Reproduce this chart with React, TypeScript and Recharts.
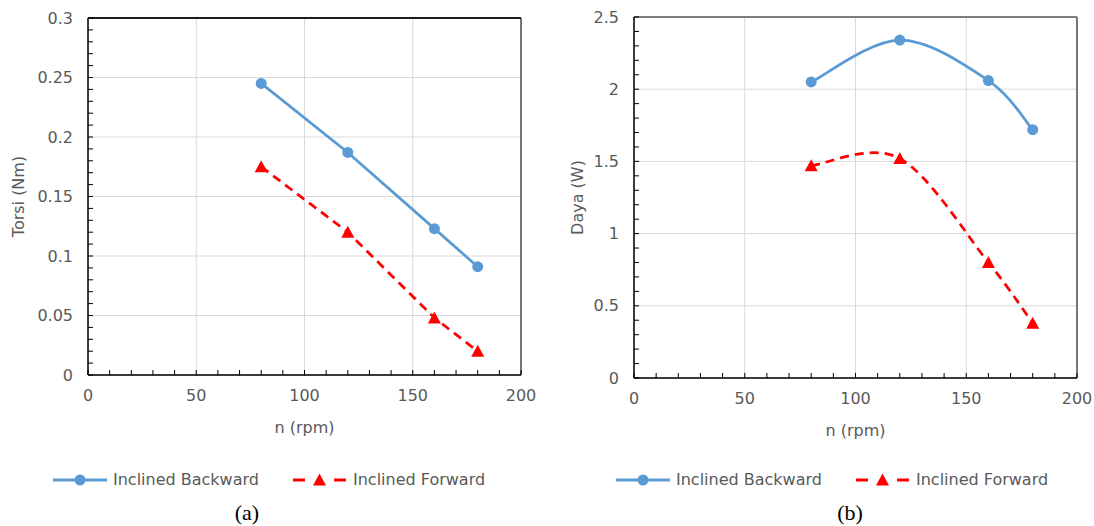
import { LineChart, Line, XAxis, YAxis, CartesianGrid, ReferenceArea, ReferenceLine } from 'recharts'

// values
const rpm = [80, 120, 160, 180]
const torsiBackward = [0.245, 0.187, 0.123, 0.091]
const torsiForward = [0.175, 0.12, 0.048, 0.02]
const dayaBackward = [2.05, 2.34, 2.06, 1.72]
const dayaForward = [1.47, 1.52, 0.8, 0.38]

const rpmTicks = [0, 50, 100, 150, 200]
const torsiTicks = [0, 0.05, 0.1, 0.15, 0.2, 0.25, 0.3]
const dayaTicks = [0, 0.5, 1, 1.5, 2, 2.5]
const seriesNames = ['Inclined Backward', 'Inclined Forward']
const captions = ['(a)', '(b)']

const BLUE = '#5b9bd5'
const RED = '#ff0000'
const GREY = '#595959'
const FONT = '"DejaVu Sans", sans-serif'

const steps = (max: number, step: number) =>
  Array.from({ length: Math.round(max / step) + 1 }, (_, i) => +(i * step).toFixed(4))

// Excel-style smoothed line (Catmull-Rom segments as cubic beziers)
function smoothCurve(context: any) {
  let pts: [number, number][] = []
  return {
    areaStart() {},
    areaEnd() {},
    lineStart() { pts = [] },
    point(x: number, y: number) { pts.push([+x, +y]) },
    lineEnd() {
      if (!pts.length) return
      context.moveTo(pts[0][0], pts[0][1])
      for (let i = 0; i < pts.length - 1; i++) {
        const p0 = pts[Math.max(i - 1, 0)]
        const p1 = pts[i]
        const p2 = pts[i + 1]
        const p3 = pts[Math.min(i + 2, pts.length - 1)]
        context.bezierCurveTo(
          p1[0] + (p2[0] - p0[0]) / 6, p1[1] + (p2[1] - p0[1]) / 6,
          p2[0] - (p3[0] - p1[0]) / 6, p2[1] - (p3[1] - p1[1]) / 6,
          p2[0], p2[1],
        )
      }
    },
  }
}

function TriangleDot(props: any) {
  const { cx, cy } = props
  if (cx == null || cy == null) return null
  const w = 13
  const h = 11
  return <polygon points={`${cx},${cy - h / 2 - 1} ${cx + w / 2},${cy + h / 2} ${cx - w / 2},${cy + h / 2}`} fill={RED} />
}

const NoTick = () => <g />

interface PanelProps {
  left: number
  width: number
  height: number
  top: number
  right: number
  backward: number[]
  forward: number[]
  yMax: number
  yTicks: number[]
  yStep: number
  yLabel: string
  yLabelOffset: number
  curve: any
  topStroke: string
}

function Panel(p: PanelProps) {
  const data = rpm.map((n, i) => ({ n, backward: p.backward[i], forward: p.forward[i] }))
  const tickStyle = { fontFamily: FONT, fontSize: 16, fill: GREY }
  return (
    <div style={{ position: 'absolute', left: p.left, top: 0 }}>
      <LineChart width={p.width} height={p.height} data={data} margin={{ top: p.top, right: p.right, left: 0, bottom: 0 }}>
        <CartesianGrid stroke="#d9d9d9" strokeWidth={1} />
        <XAxis
          dataKey="n" type="number" domain={[0, 200]} ticks={rpmTicks} interval={0} allowDataOverflow
          height={75} tickLine={false} tickSize={6} tickMargin={9} tick={tickStyle}
          axisLine={{ stroke: '#000' }}
          label={{ value: 'n (rpm)', position: 'insideBottom', offset: 17, style: { fontFamily: FONT, fontSize: 16, fill: GREY } }}
        />
        <XAxis
          xAxisId="minor" dataKey="n" type="number" domain={[0, 200]} ticks={steps(200, 10)} interval={0}
          allowDataOverflow mirror tick={NoTick} axisLine={false} tickSize={5} tickLine={{ stroke: '#000' }}
        />
        <YAxis
          type="number" domain={[0, p.yMax]} ticks={p.yTicks} interval={0} allowDataOverflow
          width={88} tickLine={false} tickSize={6} tickMargin={9} tick={tickStyle}
          axisLine={{ stroke: '#000' }}
          label={{ value: p.yLabel, angle: -90, position: 'insideLeft', offset: p.yLabelOffset, style: { fontFamily: FONT, fontSize: 16, fill: GREY, textAnchor: 'middle' } }}
        />
        <YAxis
          yAxisId="minor" type="number" domain={[0, p.yMax]} ticks={steps(p.yMax, p.yStep)} interval={0}
          allowDataOverflow mirror tick={NoTick} axisLine={false} tickSize={5} tickLine={{ stroke: '#000' }}
        />
        <ReferenceArea x1={0} x2={200} y1={0} y2={p.yMax} fill="none" stroke="#000" strokeWidth={1} />
        <ReferenceLine y={p.yMax} stroke={p.topStroke} strokeWidth={1.5} />
        <Line
          dataKey="backward" type={p.curve} stroke={BLUE} strokeWidth={2.75}
          dot={{ r: 5.5, fill: BLUE, stroke: 'none' }} isAnimationActive={false}
        />
        <Line
          dataKey="forward" type={p.curve} stroke={RED} strokeWidth={2.75} strokeDasharray="9 6"
          dot={<TriangleDot />} isAnimationActive={false}
        />
      </LineChart>
    </div>
  )
}

function LegendRow({ left }: { left: number }) {
  const item = { display: 'flex', alignItems: 'center', gap: 6 }
  return (
    <div style={{
      position: 'absolute', left, top: 470, height: 20, display: 'flex', alignItems: 'center', gap: 34,
      fontFamily: FONT, fontSize: 16, color: GREY, lineHeight: '20px', whiteSpace: 'nowrap',
    }}>
      <div style={item}>
        <svg width={54} height={16}>
          <line x1={0} y1={8} x2={54} y2={8} stroke={BLUE} strokeWidth={3} />
          <circle cx={27} cy={8} r={5.5} fill={BLUE} />
        </svg>
        <span>{seriesNames[0]}</span>
      </div>
      <div style={item}>
        <svg width={54} height={16}>
          <line x1={0} y1={8} x2={12} y2={8} stroke={RED} strokeWidth={3} />
          <line x1={41} y1={8} x2={53} y2={8} stroke={RED} strokeWidth={3} />
          <TriangleDot cx={26.5} cy={8} />
        </svg>
        <span>{seriesNames[1]}</span>
      </div>
    </div>
  )
}

function Caption({ text, center }: { text: string; center: number }) {
  return (
    <div style={{
      position: 'absolute', left: center - 50, width: 100, top: 501, textAlign: 'center',
      fontFamily: '"Liberation Serif", serif', fontSize: 22, lineHeight: '24px', color: '#000',
    }}>
      {text}
    </div>
  )
}

export default function App() {
  return (
    <div style={{ position: 'absolute', left: 0, top: 0, width: 1094, height: 526, background: '#fff', overflow: 'hidden' }}>
      <Panel
        left={0} width={540} height={450} top={18} right={19}
        backward={torsiBackward} forward={torsiForward}
        yMax={0.3} yTicks={torsiTicks} yStep={0.01} yLabel="Torsi (Nm)" yLabelOffset={18}
        curve="linear" topStroke="#000"
      />
      <Panel
        left={546} width={548} height={453} top={17} right={17}
        backward={dayaBackward} forward={dayaForward}
        yMax={2.5} yTicks={dayaTicks} yStep={0.1} yLabel="Daya (W)" yLabelOffset={31}
        curve={smoothCurve} topStroke="#808080"
      />
      <LegendRow left={53} />
      <LegendRow left={616} />
      <Caption text={captions[0]} center={247} />
      <Caption text={captions[1]} center={850} />
    </div>
  )
}
